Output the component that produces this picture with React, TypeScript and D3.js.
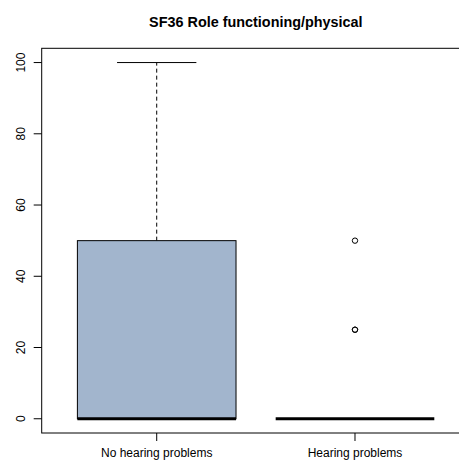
import React from "react";
import * as d3 from "d3";

const groups = ["No hearing problems", "Hearing problems"];
const lowerWhisker = [0, 0];
const q1 = [0, 0];
const medians = [0, 0];
const q3 = [50, 0];
const upperWhisker = [100, 0];
const outlierGroup = [1, 1, 1];
const outlierValues = [50, 25, 25];
const yTicks = [0, 20, 40, 60, 80, 100];

const W = 459;
const H = 464;
const plot = { left: 41.7, right: 470, top: 48.3, bottom: 433 };

export default function App() {
  const x = d3.scaleLinear().domain([0.42, 2.58]).range([plot.left, plot.right]);
  const y = d3.scaleLinear().domain([-4, 104]).range([plot.bottom, plot.top]);
  const boxHalf = 0.4;
  const capHalf = 0.2;
  const font = "'Liberation Sans', Arial, sans-serif";

  return (
    <svg width={W} height={H} style={{ position: "absolute", left: 0, top: 0, background: "#fff" }}>
      <text x={(plot.left + plot.right) / 2} y={27} textAnchor="middle" fontFamily={font} fontWeight="bold" fontSize={14.4}>
        SF36 Role functioning/physical
      </text>
      {/* frame */}
      <rect x={plot.left} y={plot.top} width={plot.right - plot.left} height={plot.bottom - plot.top} fill="none" stroke="#000" strokeWidth={1} />
      {/* y axis */}
      {yTicks.map((t) => (
        <g key={t}>
          <line x1={plot.left - 8} x2={plot.left} y1={y(t)} y2={y(t)} stroke="#000" />
          <text transform={`translate(25,${y(t)}) rotate(-90)`} textAnchor="middle" fontFamily={font} fontSize={12}>
            {t}
          </text>
        </g>
      ))}
      {/* x axis */}
      {groups.map((g, i) => (
        <g key={g}>
          <line x1={x(i + 1)} x2={x(i + 1)} y1={plot.bottom} y2={plot.bottom + 8} stroke="#000" />
          <text x={x(i + 1)} y={457} textAnchor="middle" fontFamily={font} fontSize={12}>
            {g}
          </text>
        </g>
      ))}
      {/* boxes */}
      {groups.map((g, i) => {
        const c = i + 1;
        return (
          <g key={"b" + g}>
            {upperWhisker[i] > q3[i] && (
              <>
                <line x1={x(c)} x2={x(c)} y1={y(q3[i])} y2={y(upperWhisker[i])} stroke="#000" strokeDasharray="4,3" />
                <line x1={x(c - capHalf)} x2={x(c + capHalf)} y1={y(upperWhisker[i])} y2={y(upperWhisker[i])} stroke="#000" />
              </>
            )}
            {lowerWhisker[i] < q1[i] && (
              <>
                <line x1={x(c)} x2={x(c)} y1={y(q1[i])} y2={y(lowerWhisker[i])} stroke="#000" strokeDasharray="4,3" />
                <line x1={x(c - capHalf)} x2={x(c + capHalf)} y1={y(lowerWhisker[i])} y2={y(lowerWhisker[i])} stroke="#000" />
              </>
            )}
            {q3[i] > q1[i] && (
              <rect x={x(c - boxHalf)} y={y(q3[i])} width={x(c + boxHalf) - x(c - boxHalf)} height={y(q1[i]) - y(q3[i])} fill="#A2B5CD" stroke="#000" strokeWidth={1} />
            )}
            <line x1={x(c - boxHalf)} x2={x(c + boxHalf)} y1={y(medians[i])} y2={y(medians[i])} stroke="#000" strokeWidth={3} />
          </g>
        );
      })}
      {/* outliers */}
      {outlierValues.map((v, k) => (
        <circle key={k} cx={x(outlierGroup[k] + 1)} cy={y(v)} r={2.7} fill="none" stroke="#000" strokeWidth={1} />
      ))}
    </svg>
  );
}
